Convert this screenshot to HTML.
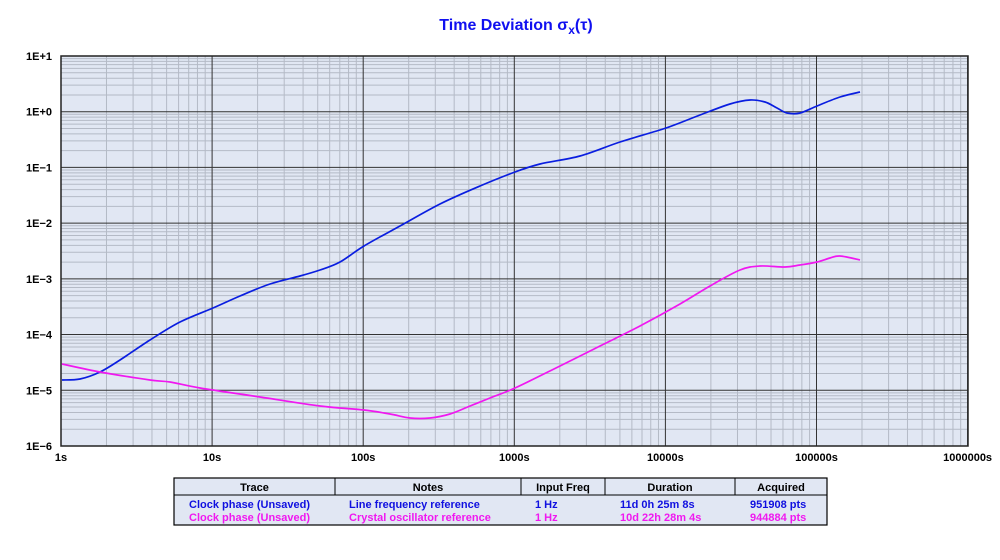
<!DOCTYPE html>
<html><head><meta charset="utf-8"><style>
body{margin:0;background:#fff;width:1000px;height:560px;overflow:hidden;font-family:"Liberation Sans",Arial,sans-serif}
svg{position:absolute;left:0;top:0}
</style></head><body>
<svg id="s" width="1000" height="560" xmlns="http://www.w3.org/2000/svg"></svg>
<script>
const s=document.getElementById('s');
let h='';
const L=61,R=968,T=56,B=446,DX=151.1,DY=55.71;
h+=`<rect x="${L}" y="${T}" width="${R-L}" height="${B-T}" fill="#e1e7f3"/>`;
for(let d=0;d<6;d++)for(let k=2;k<10;k++){const x=L+DX*(d+Math.log10(k));h+=`<line x1="${x}" y1="${T}" x2="${x}" y2="${B}" stroke="#b4bac6" stroke-width="1"/>`;}
for(let d=0;d<7;d++)for(let k=2;k<10;k++){const y=B-DY*(d+Math.log10(k));h+=`<line x1="${L}" y1="${y}" x2="${R}" y2="${y}" stroke="#b4bac6" stroke-width="1"/>`;}
const xl=['1s','10s','100s','1000s','10000s','100000s','1000000s'];
for(let d=0;d<=6;d++){const x=L+DX*d;h+=`<line x1="${x}" y1="${T}" x2="${x}" y2="${B}" stroke="#333" stroke-width="1"/>`;h+=`<text x="${x}" y="461" font-size="11" font-weight="bold" text-anchor="middle" fill="#000">${xl[d]}</text>`;}
const yl=['1E+1','1E+0','1E\u22121','1E\u22122','1E\u22123','1E\u22124','1E\u22125','1E\u22126'];
for(let d=0;d<=7;d++){const y=T+DY*d;h+=`<line x1="${L}" y1="${y}" x2="${R}" y2="${y}" stroke="#333" stroke-width="1"/>`;h+=`<text x="52" y="${y+4}" font-size="11" font-weight="bold" text-anchor="end" fill="#000">${yl[d]}</text>`;}
h+=`<rect x="${L}" y="${T}" width="${R-L}" height="${B-T}" fill="none" stroke="#222" stroke-width="1.5"/>`;
const blue=[[62,380],[80,379],[100,372],[120,360],[150,340],[180,322],[213,308],[240,296],[270,284],[300,276],[320,270],[340,262],[364,246],[400,226],[440,204],[480,186],[515,172],[540,164],[580,156],[620,142],[666,128],[700,115],[730,104],[750,100],[765,102],[777,108],[787,113],[800,113],[817,106],[840,97],[860,92]];
const mag=[[62,364],[100,372],[150,380],[170,382],[200,388],[260,397],[320,406],[364,410],[390,414],[410,418],[430,418],[450,414],[470,406],[490,398],[515,388],[560,366],[600,346],[640,326],[680,304],[710,286],[740,270],[760,266],[785,267],[800,265],[817,262],[830,258],[840,256],[860,260]];
function cr(p){let d=`M${p[0][0]},${p[0][1]}`;for(let i=0;i<p.length-1;i++){const p0=p[i-1]||p[i],p1=p[i],p2=p[i+1],p3=p[i+2]||p2;
const c1=[p1[0]+(p2[0]-p0[0])/6,p1[1]+(p2[1]-p0[1])/6],c2=[p2[0]-(p3[0]-p1[0])/6,p2[1]-(p3[1]-p1[1])/6];
d+=` C${c1[0].toFixed(1)},${c1[1].toFixed(1)} ${c2[0].toFixed(1)},${c2[1].toFixed(1)} ${p2[0]},${p2[1]}`;}return d;}
const pl=(p,c)=>`<path d="${cr(p)}" fill="none" stroke="${c}" stroke-width="1.7" stroke-linejoin="round"/>`;
h+=pl(blue,'#0a1ee0')+pl(mag,'#f018f0');
h+=`<text x="516" y="30" font-size="16" font-weight="bold" fill="#1010f0" text-anchor="middle">Time Deviation σ<tspan font-size="12" dy="4">x</tspan><tspan dy="-4">(τ)</tspan></text>`;
h+=`<rect x="174" y="478" width="653" height="47" fill="#e1e7f3" stroke="#000" stroke-width="1.2"/>`;
h+=`<line x1="174" y1="495" x2="827" y2="495" stroke="#000"/>`;
const cols=[174,335,521,605,735,827];
for(let i=1;i<5;i++)h+=`<line x1="${cols[i]}" y1="478" x2="${cols[i]}" y2="495" stroke="#000"/>`;
const hd=['Trace','Notes','Input Freq','Duration','Acquired'];
for(let i=0;i<5;i++)h+=`<text x="${(cols[i]+cols[i+1])/2}" y="491" font-size="11" font-weight="bold" text-anchor="middle" fill="#000">${hd[i]}</text>`;
const rows=[['#1010e0',['Clock phase (Unsaved)','Line frequency reference','1 Hz','11d 0h 25m 8s','951908 pts']],['#f018f0',['Clock phase (Unsaved)','Crystal oscillator reference','1 Hz','10d 22h 28m 4s','944884 pts']]];
const tx=[189,349,535,620,750];
rows.forEach((r,j)=>{for(let i=0;i<5;i++)h+=`<text x="${tx[i]}" y="${508+j*13}" font-size="11" font-weight="bold" fill="${r[0]}">${r[1][i]}</text>`;});
s.innerHTML=h;
</script>
</body></html>
